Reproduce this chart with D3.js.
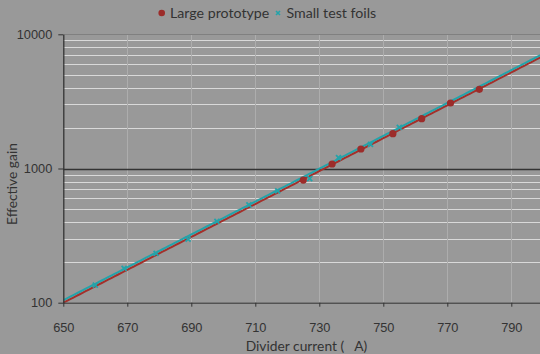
<!DOCTYPE html>
<html><head><meta charset="utf-8">
<script src="https://cdn.jsdelivr.net/npm/d3@7"></script>
<style>
html,body{margin:0;padding:0;background:#999999;}
svg{display:block;font-family:Lato,"Open Sans",sans-serif;}
text{white-space:pre;}
</style></head>
<body>
<svg id="chart" width="540" height="354"></svg>
<script>
// Data
const largeX = [725, 734, 743, 753, 762, 771, 780];
const largeY = [820, 1080, 1397, 1817, 2350, 3076, 3890];
const smallX = [660, 669, 679, 689, 698, 708, 717, 727, 736, 746, 755];
const smallY = [135, 180, 233, 298, 404, 535, 680, 840, 1203, 1515, 2028];
const xTicks = [650, 670, 690, 710, 730, 750, 770, 790];
const yTicks = [100, 1000, 10000];
const seriesNames = ["Large prototype", "Small test foils"];
const xLabel = "Divider current (   A)";
const yLabel = "Effective gain";

const W = 540, H = 354;
const svg = d3.select("#chart");
const x = d3.scaleLinear().domain([650, 800]).range([63.3, 543.3]);
const y = d3.scaleLog().domain([100, 10000]).range([302.7, 34.3]);

svg.append("rect").attr("width", W).attr("height", H).attr("fill", "#999999");

// minor horizontal gridlines
const minor = [];
[100, 1000].forEach(d => { for (let k = 2; k <= 9; k++) minor.push(d * k); });
svg.append("g").selectAll("line").data(minor).join("line")
  .attr("x1", x(650)).attr("x2", W).attr("y1", d => Math.round(y(d)) + 0.5).attr("y2", d => Math.round(y(d)) + 0.5)
  .attr("stroke", "#d9d9d9").attr("stroke-width", 1);

// vertical gridlines
svg.append("g").selectAll("line").data(xTicks.slice(1)).join("line")
  .attr("x1", d => Math.round(x(d)) + 0.5).attr("x2", d => Math.round(x(d)) + 0.5)
  .attr("y1", y(10000)).attr("y2", y(100))
  .attr("stroke", "#adadad").attr("stroke-width", 1);

// major gridlines
svg.append("line").attr("x1", x(650)).attr("x2", W)
  .attr("y1", Math.round(y(10000)) + 0.5).attr("y2", Math.round(y(10000)) + 0.5)
  .attr("stroke", "#808080");
svg.append("line").attr("x1", x(650)).attr("x2", W)
  .attr("y1", Math.round(y(1000)) + 0.5).attr("y2", Math.round(y(1000)) + 0.5)
  .attr("stroke", "#333333").attr("stroke-width", 1.3);

// exponential trendlines (least squares on log10)
function fit(xs, ys) {
  const n = xs.length;
  const ly = ys.map(v => Math.log10(v));
  const mx = d3.mean(xs), my = d3.mean(ly);
  let sxy = 0, sxx = 0;
  for (let i = 0; i < n; i++) { sxy += (xs[i] - mx) * (ly[i] - my); sxx += (xs[i] - mx) ** 2; }
  const b = sxy / sxx, a = my - b * mx;
  return xv => Math.pow(10, a + b * xv);
}
const fL = fit(largeX, largeY), fS = fit(smallX, smallY);
const xs = d3.range(650, 800.01, 1);
const line = f => d3.line().x(d => x(d)).y(d => y(f(d)))(xs);
svg.append("clipPath").attr("id", "pc").append("rect")
  .attr("x", x(650)).attr("y", y(10000)).attr("width", W - x(650)).attr("height", y(100) - y(10000));
const plot = svg.append("g").attr("clip-path", "url(#pc)");
plot.append("path").attr("d", line(fL)).attr("fill", "none").attr("stroke", "#a4302b").attr("stroke-width", 2);
plot.append("path").attr("d", line(fS)).attr("fill", "none").attr("stroke", "#24a3aa").attr("stroke-width", 2)
  .attr("transform", "translate(0,-1)");

// axes
const xAxis = d3.axisBottom(x).tickValues(xTicks).tickSize(4).tickSizeOuter(0).tickFormat(d3.format("d"));
const gx = svg.append("g").attr("transform", `translate(0,${y(100)})`).call(xAxis);
gx.select(".domain").attr("stroke", "#333").attr("d", `M${x(650)},0.5H${W}`);
gx.selectAll(".tick line").attr("stroke", "#333");
gx.selectAll("text").attr("fill", "#333").attr("font-size", 12.8).attr("dy", null).attr("y", 29.5);

const yAxis = d3.axisLeft(y).tickValues(yTicks).tickSize(5).tickSizeOuter(0).tickFormat(d3.format("d"));
const gy = svg.append("g").attr("transform", `translate(${x(650)},0)`).call(yAxis);
gy.select(".domain").attr("stroke", "#333").attr("stroke-width", 1.3);
gy.selectAll(".tick line").attr("stroke", "#333");
gy.selectAll("text").attr("fill", "#333").attr("font-size", 12.8).attr("x", -11);

// markers
svg.append("g").selectAll("circle").data(largeX).join("circle")
  .attr("cx", (d, i) => x(d)).attr("cy", (d, i) => y(largeY[i])).attr("r", 3.6)
  .attr("fill", "#9c2c2a");
const xm = "M-2.5,-2.5L2.5,2.5M2.5,-2.5L-2.5,2.5";
svg.append("g").selectAll("path").data(smallX).join("path")
  .attr("d", xm).attr("transform", (d, i) => `translate(${x(d)},${y(smallY[i])})`)
  .attr("stroke", "#24a3aa").attr("stroke-width", 1.8).attr("fill", "none");

// axis titles
svg.append("text").attr("x", 306.5).attr("y", 350.5).attr("text-anchor", "middle")
  .attr("fill", "#333").attr("font-size", 13.8).text(xLabel);
svg.append("text").attr("transform", "translate(16.5,184) rotate(-90)").attr("text-anchor", "middle")
  .attr("fill", "#333").attr("font-size", 13.8).text(yLabel);

// legend
const lg = svg.append("g");
lg.append("circle").attr("cx", 161.7).attr("cy", 13).attr("r", 3.3).attr("fill", "#9c2c2a");
lg.append("text").attr("x", 170).attr("y", 17.5).attr("fill", "#333").attr("font-size", 14.2).text(seriesNames[0]);
lg.append("path").attr("d", "M-2,-2L2,2M2,-2L-2,2").attr("transform", "translate(278,13)")
  .attr("stroke", "#24a3aa").attr("stroke-width", 1.6);
lg.append("text").attr("x", 286.5).attr("y", 17.5).attr("fill", "#333").attr("font-size", 14.2).text(seriesNames[1]);
</script>
</body></html>
